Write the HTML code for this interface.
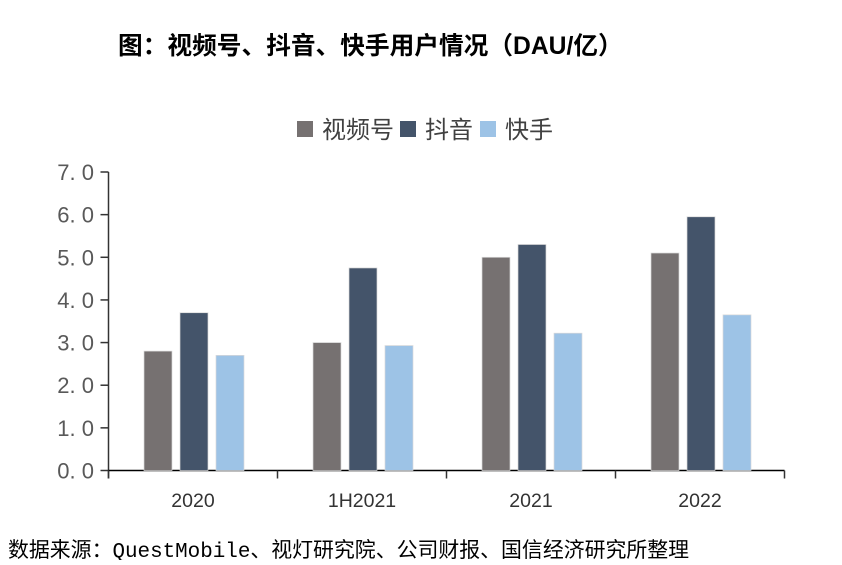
<!DOCTYPE html>
<html><head><meta charset="utf-8"><style>
body{margin:0;background:#fff;width:842px;height:560px;overflow:hidden;font-family:"Liberation Sans","Noto Sans CJK SC",sans-serif;}
</style></head><body>
<svg width="842" height="560">
<text x="118" y="54" font-size="24.7" font-weight="bold" fill="#000" font-family="Liberation Sans,Noto Sans CJK SC,sans-serif">图：视频号、抖音、快手用户情况（DAU/亿）</text>
<g id="legend"></g>
<g id="axes"></g>
<g id="bars"></g>
<text x="8" y="557" font-size="20.9" fill="#000" font-family="Liberation Mono,Noto Sans CJK SC,monospace">数据来源：QuestMobile、视灯研究院、公司财报、国信经济研究所整理</text>
</svg>
<script>
const categories=["2020","1H2021","2021","2022"];
const seriesNames=["视频号","抖音","快手"];
const shipinhao=[2.8,3.0,5.0,5.1];
const douyin=[3.7,4.75,5.3,5.95];
const kuaishou=[2.7,2.93,3.22,3.65];
const yTicks=["0.0","1.0","2.0","3.0","4.0","5.0","6.0","7.0"];
const colors=["#767171","#44546a","#9dc3e6"];
const NS="http://www.w3.org/2000/svg";
const x0=108.5,cw=169,y0=470.5,yTop=172,yMax=7;
const y=v=>y0-(v/yMax)*(y0-yTop);
function mk(t,a,p){const e=document.createElementNS(NS,t);for(const k in a)e.setAttribute(k,a[k]);p.appendChild(e);return e;}
const ax=document.getElementById('axes'),bg=document.getElementById('bars'),lg=document.getElementById('legend');
const yl=mk('line',{x1:x0,y1:yTop,x2:x0,y2:y0+8,stroke:'#333','stroke-width':1.5},ax);


const xl=mk('line',{x1:x0,y1:y0,x2:x0+cw*categories.length,y2:y0,stroke:'#000','stroke-width':1.5},ax);


yTicks.forEach(t=>{const v=parseFloat(t);const yy=y(v);
mk('line',{x1:x0-8,y1:yy,x2:x0,y2:yy,stroke:'#333','stroke-width':1.5},ax);
const tx=mk('text',{x:94,y:yy+8,'font-size':22,'text-anchor':'end',fill:'#595959'},ax);
tx.textContent=t.replace('.','. ');

});
for(let i=0;i<=categories.length;i++){mk('line',{x1:x0+cw*i,y1:y0,x2:x0+cw*i,y2:y0+8,stroke:'#333','stroke-width':1.5},ax);}
const data=[shipinhao,douyin,kuaishou];
categories.forEach((c,i)=>{
const t=mk('text',{x:x0+cw*i+cw/2,y:507,'font-size':19.5,'text-anchor':'middle',fill:'#333'},ax);t.textContent=c;


data.forEach((s,j)=>{const bx=x0+cw*i+35.5+36*j;
const r=mk('rect',{x:bx,y:y(s[i]),width:28,height:y0-y(s[i]),fill:colors[j],stroke:'#d9d9d9','stroke-width':0.7},bg);

});});
const lx=[297,400,480];
seriesNames.forEach((n,j)=>{
mk('rect',{x:lx[j],y:121,width:16,height:16,fill:colors[j]},lg);
const t=mk('text',{x:lx[j]+25,y:138,'font-size':24,fill:'#404040'},lg);t.textContent=n;

});
</script>
</body></html>
